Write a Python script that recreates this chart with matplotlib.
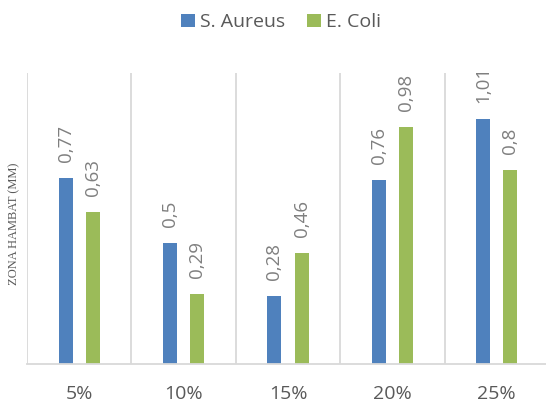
import numpy as np
import matplotlib.pyplot as plt

kategori = ['5%', '10%', '15%', '20%', '25%']
s_aureus = [0.77, 0.5, 0.28, 0.76, 1.01]
e_coli = [0.63, 0.29, 0.46, 0.98, 0.8]
label_s = ['0,77', '0,5', '0,28', '0,76', '1,01']
label_e = ['0,63', '0,29', '0,46', '0,98', '0,8']

plt.rcParams['font.family'] = ['Open Sans', 'DejaVu Sans']

W, H = 546, 403
fig = plt.figure(figsize=(W/100, H/100), dpi=100)
ax = fig.add_axes([27/W, (H-364.3)/H, (549-27)/W, (364.3-73.3)/H])

x = np.arange(len(kategori))
lebar = 0.134
geser = 0.131
b1 = ax.bar(x - geser, s_aureus, lebar, color='#4f81bd', label='S. Aureus')
b2 = ax.bar(x + geser, e_coli, lebar, color='#9bbb59', label='E. Coli')

for bars, labs in [(b1, label_s), (b2, label_e)]:
    for b, t in zip(bars, labs):
        ax.annotate(t, (b.get_x() + b.get_width()/2, b.get_height()),
                    xytext=(0, 11.5), textcoords='offset points',
                    rotation=90, ha='center', va='bottom',
                    fontsize=13.5, color='#7f7f7f')

ax.set_xlim(-0.5, 4.5)
ax.set_ylim(0, 1.2)
ax.set_xticks(x)
ax.set_xticklabels(kategori, fontsize=14, color='#595959')
ax.set_xticks(np.arange(-0.5, 5, 1), minor=True)
ax.tick_params(axis='x', which='both', length=0, pad=15)
ax.set_yticks([])
ax.grid(axis='x', which='minor', color='#d9d9d9', lw=1.3)
ax.set_axisbelow(True)
for s in ['top', 'right', 'left']:
    ax.spines[s].set_visible(False)
ax.spines['bottom'].set_color('#d9d9d9')
ax.spines['bottom'].set_linewidth(1.3)

fig.text(14.5/W, 1 - 223.5/H, 'ZONA HAMBAT (MM)', rotation=90,
         ha='center', va='center', fontsize=9, color='#595959',
         family='Liberation Serif')

fig.legend(loc='center', bbox_to_anchor=(281/W, 1 - 22/H), ncol=2,
           frameon=False, fontsize=14, labelcolor='#595959',
           handlelength=0.72, handleheight=0.67, handletextpad=0.26,
           columnspacing=1.1)

fig.savefig('out.png', dpi=100)
